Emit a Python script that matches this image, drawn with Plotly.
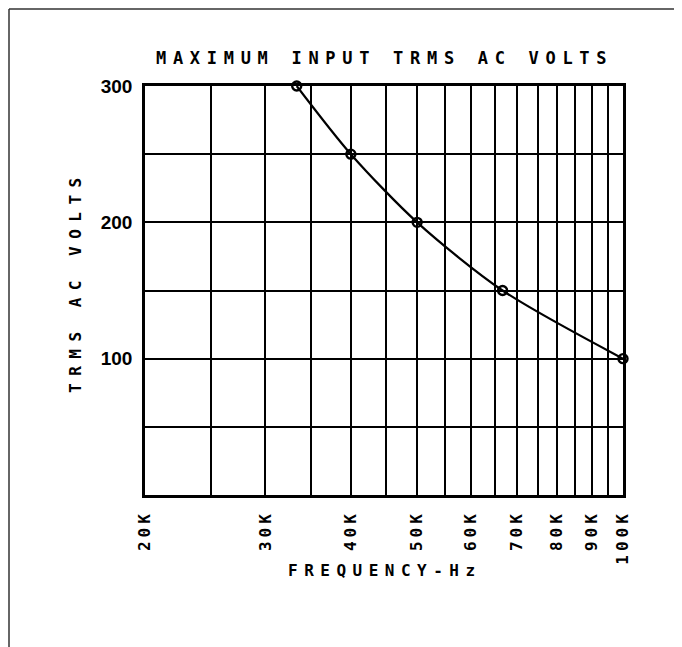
import plotly.graph_objects as go
import math

# Data
freq_hz = [33333, 40000, 50000, 66667, 100000]
trms_volts = [300, 250, 200, 150, 100]

x_tick_vals = [20000, 25000, 30000, 35000, 40000, 45000, 50000, 55000, 60000,
               65000, 70000, 75000, 80000, 85000, 90000, 95000, 100000]
x_tick_text = ["20K", "", "30K", "", "40K", "", "50K", "", "60K",
               "", "70K", "", "80K", "", "90K", "", "100K"]
y_tick_vals = [50, 100, 150, 200, 250, 300]
y_tick_text = ["", "100", "", "200", "", "300"]

title_text = "MAXIMUM INPUT TRMS AC VOLTS"
x_title = "FREQUENCY-Hz"
y_title = "TRMS AC VOLTS"

pen = "DejaVu Sans Mono"

def spaced(s, ls):
    return '<span style="letter-spacing:%spx">%s</span>' % (ls, s)

# page offset of the figure (body margin) is 8px; plot area in page coords: x 145..623, y 86..495
PX0, PX1, PY0, PY1 = 145, 623, 86, 495
OFF = 8
W, H = 674, 639

def px(x):
    return (x - PX0) / (PX1 - PX0)

def py(y):
    return (PY1 - y) / (PY1 - PY0)

fig = go.Figure()
fig.add_trace(go.Scatter(
    x=freq_hz, y=trms_volts, mode="lines+markers",
    line=dict(color="black", width=2.2, shape="spline", smoothing=0.8),
    marker=dict(symbol="circle-open", size=9, color="black", line=dict(width=2.4)),
    cliponaxis=False, showlegend=False, hoverinfo="skip",
))

fig.update_layout(
    width=W, height=H,
    margin=dict(l=PX0 - OFF, r=W - (PX1 - OFF), t=PY0 - OFF, b=H - (PY1 - OFF)),
    paper_bgcolor="white", plot_bgcolor="white",
    xaxis=dict(
        type="log", range=[math.log10(20000), math.log10(100000)],
        tickvals=x_tick_vals, ticktext=[spaced(t, 4) if t else "" for t in x_tick_text],
        tickangle=-90, ticks="", ticklabelstandoff=6,
        tickfont=dict(family=pen, size=16, color="black", weight="bold"),
        showgrid=True, gridcolor="black", gridwidth=2.4,
        showline=True, linecolor="black", linewidth=2.6, mirror=True,
        zeroline=False, fixedrange=True,
    ),
    yaxis=dict(
        range=[0, 300],
        tickvals=y_tick_vals, ticktext=y_tick_text,
        ticks="", ticklabelstandoff=6,
        tickfont=dict(family="Liberation Sans", size=19, color="black", weight="bold"),
        showgrid=True, gridcolor="black", gridwidth=2.4,
        showline=True, linecolor="black", linewidth=2.6, mirror=True,
        zeroline=False, fixedrange=True,
    ),
    annotations=[
        dict(text=spaced(title_text, 6.7), xref="paper", yref="paper",
             x=px(384), y=py(58), xanchor="center", yanchor="middle",
             showarrow=False, font=dict(family=pen, size=17, color="black", weight="bold")),
        dict(text=spaced(x_title, 6.5), xref="paper", yref="paper",
             x=px(385), y=py(570), xanchor="center", yanchor="middle",
             showarrow=False, font=dict(family=pen, size=16, color="black", weight="bold")),
        dict(text=spaced(y_title, 7.5), xref="paper", yref="paper",
             x=px(75), y=py(282), xanchor="center", yanchor="middle",
             textangle=-90,
             showarrow=False, font=dict(family=pen, size=16, color="black", weight="bold")),
    ],
    shapes=[
        dict(type="line", xref="paper", yref="paper",
             x0=px(9), x1=px(682), y0=py(9), y1=py(9),
             line=dict(color="#333333", width=1.5)),
        dict(type="line", xref="paper", yref="paper",
             x0=px(9), x1=px(9), y0=py(9), y1=py(647),
             line=dict(color="#333333", width=1.5)),
    ],
)

fig.write_html("out.html")
